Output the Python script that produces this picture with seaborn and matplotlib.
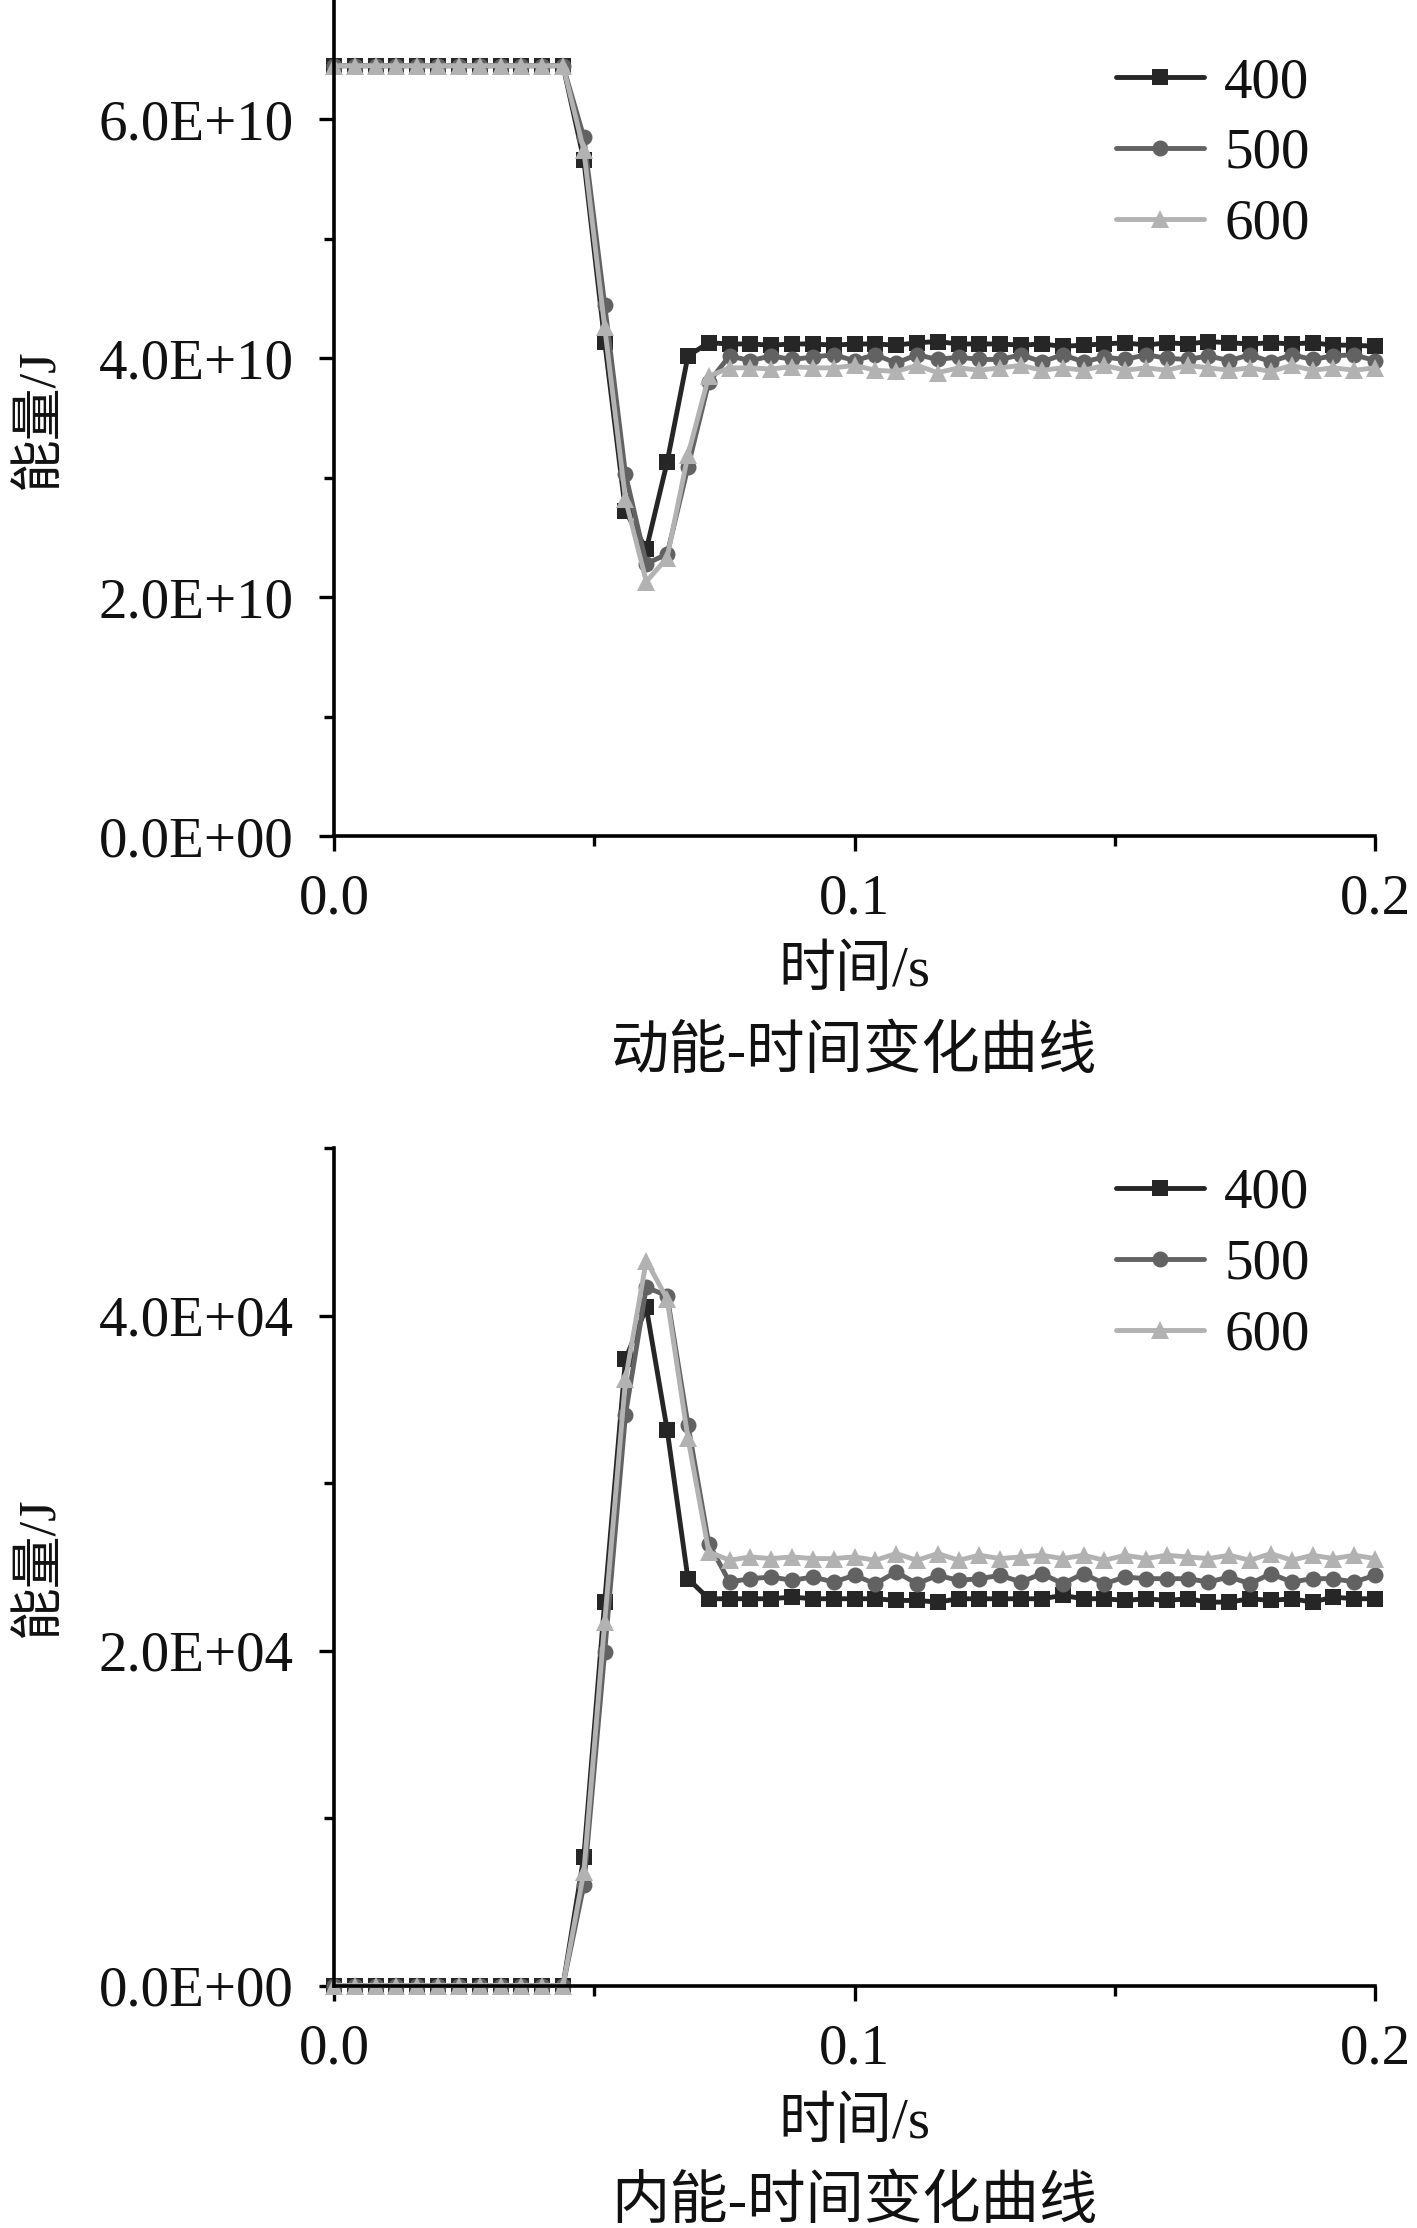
import numpy as np
import pandas as pd
import matplotlib
matplotlib.use("Agg")
import matplotlib.pyplot as plt
import seaborn as sns
from matplotlib.ticker import FixedLocator, FixedFormatter

# ---------------- data ----------------
time_s = [round(0.004 * k, 3) for k in range(51)]
series = ["400", "500", "600"]

# kinetic energy (x1e10 J)
ke_400 = [6.45]*12 + [5.66, 4.14, 2.72, 2.40, 3.13, 4.02, 4.13, 4.12,
          4.12, 4.11, 4.12, 4.12,
          4.11, 4.12, 4.12, 4.11, 4.13, 4.14, 4.12, 4.12, 4.12, 4.11, 4.12, 4.10, 4.11,
          4.12, 4.13, 4.11, 4.13, 4.12, 4.14, 4.13, 4.12, 4.13, 4.12, 4.13, 4.11, 4.11, 4.10]
ke_500 = [6.45]*12 + [5.85, 4.45, 3.03, 2.28, 2.36, 3.09, 3.80, 4.02,
          3.98, 4.02, 3.99, 4.01,
          4.03, 3.98, 4.03, 3.96, 4.03, 3.99, 4.01, 3.99, 3.99, 4.03, 3.97, 4.03, 3.97,
          4.01, 3.99, 4.03, 4.00, 3.99, 4.02, 3.98, 4.03, 3.97, 4.03, 3.99, 4.02, 4.03, 3.98]
ke_600 = [6.45]*12 + [5.74, 4.26, 2.82, 2.13, 2.33, 3.19, 3.85, 3.92,
          3.92, 3.91, 3.93, 3.92,
          3.92, 3.94, 3.90, 3.89, 3.94, 3.88, 3.92, 3.90, 3.92, 3.94, 3.90, 3.92, 3.90,
          3.94, 3.90, 3.92, 3.90, 3.94, 3.92, 3.90, 3.92, 3.89, 3.94, 3.90, 3.92, 3.90, 3.92]

# internal energy (x1e4 J)
ie_400 = [0.0]*12 + [0.77, 2.29, 3.74, 4.05, 3.32, 2.43, 2.31, 2.31,
          2.31, 2.31, 2.32, 2.31,
          2.31, 2.31, 2.31, 2.30, 2.30, 2.29, 2.31, 2.31, 2.31, 2.31, 2.31, 2.33, 2.31,
          2.31, 2.30, 2.31, 2.30, 2.31, 2.29, 2.29, 2.31, 2.30, 2.31, 2.29, 2.32, 2.31, 2.31]
ie_500 = [0.0]*12 + [0.60, 1.99, 3.41, 4.17, 4.12, 3.35, 2.64, 2.41,
          2.43, 2.44, 2.42, 2.44,
          2.41, 2.45, 2.40, 2.47, 2.40, 2.45, 2.42, 2.43, 2.45, 2.41, 2.46, 2.40, 2.46,
          2.40, 2.44, 2.43, 2.43, 2.43, 2.41, 2.44, 2.40, 2.46, 2.41, 2.43, 2.43, 2.41, 2.45]
ie_600 = [0.0]*12 + [0.68, 2.17, 3.62, 4.33, 4.10, 3.27, 2.59, 2.54,
          2.56, 2.55, 2.56, 2.55,
          2.55, 2.56, 2.54, 2.58, 2.54, 2.58, 2.54, 2.57, 2.55, 2.56, 2.57, 2.55, 2.57,
          2.54, 2.57, 2.55, 2.57, 2.56, 2.55, 2.57, 2.54, 2.58, 2.54, 2.57, 2.55, 2.57, 2.55]

x_ticks = [0.0, 0.1, 0.2]
x_tick_labels = ["0.0", "0.1", "0.2"]
ke_ticks = [0.0, 2.0e10, 4.0e10, 6.0e10]
ke_tick_labels = ["0.0E+00", "2.0E+10", "4.0E+10", "6.0E+10"]
ie_ticks = [0.0, 2.0e4, 4.0e4]
ie_tick_labels = ["0.0E+00", "2.0E+04", "4.0E+04"]

ylabel = "能量/J"
xlabel = "时间/s"
caption_top = "动能-时间变化曲线"
caption_bottom = "内能-时间变化曲线"

# ---------------- style ----------------
sns.set_style("ticks")
plt.rcParams["font.family"] = ["Liberation Serif", "Noto Sans CJK SC", "DejaVu Sans"]

colors = {"400": "#262626", "500": "#626262", "600": "#b2b2b2"}
markers = {"400": "s", "500": "o", "600": "^"}
msizes = {"400": 11.0, "500": 11.5, "600": 13.0}

W, H = 1417, 2228
fig = plt.figure(figsize=(W / 100, H / 100), dpi=100)
left = 334 / W
width = (1375 - 334) / W
ax1 = fig.add_axes([left, 1 - 836 / H, width, 836 / H])
ax2 = fig.add_axes([left, 1 - 1985.5 / H, width, (1985.5 - 1148.4) / H])

FS = 41


def draw(ax, vals, scale, ylim, yticks, ylabels, yminor, legend_top_px):
    for name, v in zip(series, vals):
        df = pd.DataFrame({"t": time_s, "E": np.array(v) * scale})
        sns.lineplot(data=df, x="t", y="E", ax=ax, color=colors[name],
                     marker=markers[name], markersize=msizes[name],
                     markeredgewidth=0, markeredgecolor=colors[name],
                     linewidth=3.5, label=name, errorbar=None, clip_on=False)
    ax.set_xlim(0, 0.2)
    ax.set_ylim(*ylim)
    ax.set_xlabel("")
    ax.set_ylabel("")
    ax.xaxis.set_major_locator(FixedLocator(x_ticks))
    ax.xaxis.set_major_formatter(FixedFormatter(x_tick_labels))
    ax.xaxis.set_minor_locator(FixedLocator([0.05, 0.15]))
    ax.yaxis.set_major_locator(FixedLocator(yticks))
    ax.yaxis.set_major_formatter(FixedFormatter(ylabels))
    ax.yaxis.set_minor_locator(FixedLocator(yminor))
    for s in ["top", "right"]:
        ax.spines[s].set_visible(False)
    for s in ["left", "bottom"]:
        ax.spines[s].set_linewidth(2.6)
        ax.spines[s].set_color("black")
    ax.tick_params(axis="both", which="major", direction="out", length=11,
                   width=2.4, colors="black", labelsize=FS)
    ax.tick_params(axis="both", which="minor", direction="out", length=7,
                   width=2.4, colors="black")
    ax.tick_params(axis="y", which="major", pad=18)
    ax.tick_params(axis="x", which="major", pad=16)
    for lab in ax.get_xticklabels() + ax.get_yticklabels():
        lab.set_color("#111111")
    leg = ax.legend(loc="upper left", frameon=False, fontsize=FS,
                    bbox_to_anchor=(1116 / W, 1 - legend_top_px / H),
                    bbox_transform=fig.transFigure, borderpad=0, borderaxespad=0,
                    handlelength=1.55, handletextpad=0.35, labelspacing=0.33,
                    numpoints=1)
    for t in leg.get_texts():
        t.set_color("#111111")
    return ax


draw(ax1, [ke_400, ke_500, ke_600], 1e10, (0, 7e10), ke_ticks, ke_tick_labels,
     [1e10, 3e10, 5e10], 57)
draw(ax2, [ie_400, ie_500, ie_600], 1e4, (0, 5e4), ie_ticks, ie_tick_labels,
     [1e4, 3e4, 5e4], 1168)

cx = (334 + 1375) / 2 / W
for yl_px, xl_px, cap_px, cap in [(419, 972, 1053, caption_top),
                                  (1567, 2124, 2203, caption_bottom)]:
    fig.text(40 / W, 1 - yl_px / H, ylabel, rotation=90, ha="center", va="center",
             fontsize=38, color="#111111")
    fig.text(cx, 1 - xl_px / H, xlabel, ha="center", va="center",
             fontsize=41, color="#111111")
    fig.text(cx, 1 - cap_px / H, cap, ha="center", va="center",
             fontsize=42, color="#111111")

fig.savefig("out.png", dpi=100, facecolor="white")
